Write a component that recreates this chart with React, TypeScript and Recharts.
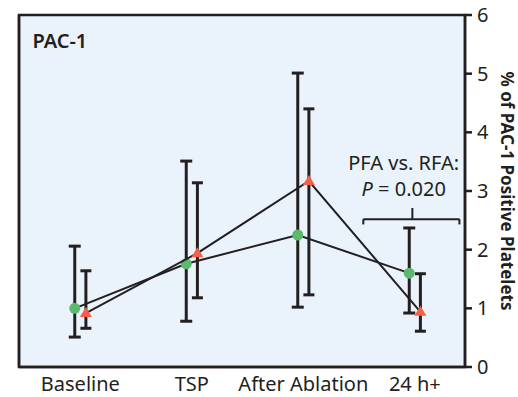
import { ComposedChart, Scatter, XAxis, YAxis, ErrorBar, ReferenceArea, ReferenceLine, ReferenceDot, Label } from 'recharts';

const categories = ['Baseline', 'TSP', 'After Ablation', '24 h+'];

// circles
const pfaMean = [1.0, 1.76, 2.25, 1.6];
const pfaLow = [0.51, 0.78, 1.02, 0.92];
const pfaHigh = [2.06, 3.51, 5.01, 2.37];

// triangles
const rfaMean = [0.92, 1.94, 3.17, 0.94];
const rfaLow = [0.66, 1.18, 1.23, 0.61];
const rfaHigh = [1.64, 3.14, 4.4, 1.59];

const rightTicks = [0, 1, 2, 3, 4, 5, 6];
const leftTicks = [0, 1, 2, 3, 4];
const categoryTicks = [0, 1, 2, 3];

const INK = '#231f20';
const GREEN = '#5cb96f';
const RED = '#f26148';
const FONT = '"Noto Sans", "Open Sans", sans-serif';

const toRows = (mean: number[], low: number[], high: number[], shift: number) =>
  mean.map((m, i) => ({ x: i + shift, y: m, err: [m - low[i], high[i] - m] }));

const pfaRows = toRows(pfaMean, pfaLow, pfaHigh, -0.05);
const rfaRows = toRows(rfaMean, rfaLow, rfaHigh, 0.05);

const Dot = (props: any) => <circle cx={props.cx} cy={props.cy} r={5.5} fill={GREEN} />;

const Triangle = (props: any) => {
  const { cx, cy } = props;
  return <polygon points={`${cx},${cy - 6} ${cx + 6},${cy + 4} ${cx - 6},${cy + 4}`} fill={RED} />;
};

const rightTitle = (props: any) => {
  const vb = props.viewBox;
  const x = vb.x + 42;
  const y = vb.y + vb.height / 2;
  return (
    <text x={x} y={y} transform={`rotate(90, ${x}, ${y})`} textAnchor="middle" dominantBaseline="central"
      fontSize={17} fontWeight={700} fill={INK} fontFamily={FONT}>
      % of PAC-1 Positive Platelets
    </text>
  );
};

const panelTitle = (props: any) => {
  const vb = props.viewBox;
  return (
    <text x={vb.x} y={vb.y} dominantBaseline="central" fontSize={20} fontWeight={600} fill={INK} fontFamily={FONT}>
      PAC-1
    </text>
  );
};

const pValue = (props: any) => {
  const vb = props.viewBox;
  return (
    <text x={vb.x} y={vb.y} textAnchor="middle" fontSize={20} fill={INK} fontFamily={FONT}>
      <tspan x={vb.x} dy={-6}>PFA vs. RFA:</tspan>
      <tspan x={vb.x} dy={26}><tspan fontStyle="italic">P</tspan> = 0.020</tspan>
    </text>
  );
};

const App = () => {
  return (
    <div style={{ position: 'absolute', left: 0, top: 0, fontFamily: FONT }}>
      <ComposedChart width={518} height={397} margin={{ top: 15, right: 0, left: 0, bottom: 0 }}>
        <XAxis
          xAxisId="x"
          type="number"
          dataKey="x"
          domain={[-0.55, 3.45]}
          ticks={categoryTicks}
          tickFormatter={(v: number) => categories[v]}
          height={30}
          tickSize={0}
          tickMargin={10}
          tickLine={false}
          axisLine={{ stroke: INK, strokeWidth: 2.5 }}
          tick={{ fill: INK, fontSize: 20, fontFamily: FONT }}
          interval={0}
          allowDataOverflow
        />
        <YAxis
          yAxisId="left"
          type="number"
          domain={[0, 4]}
          ticks={leftTicks}
          width={19}
          tick={false}
          tickSize={7}
          tickLine={{ stroke: INK, strokeWidth: 2.5 }}
          axisLine={{ stroke: INK, strokeWidth: 2.5 }}
          allowDataOverflow
        />
        <YAxis
          yAxisId="right"
          orientation="right"
          type="number"
          domain={[0, 6]}
          ticks={rightTicks}
          width={53}
          tickSize={7}
          tickMargin={5}
          tickLine={{ stroke: INK, strokeWidth: 2.5 }}
          axisLine={{ stroke: INK, strokeWidth: 2.5 }}
          tick={{ fill: INK, fontSize: 20, fontFamily: FONT }}
          allowDataOverflow
        >
          <Label content={rightTitle} />
        </YAxis>

        <ReferenceArea xAxisId="x" yAxisId="right" x1={-0.55} x2={3.45} y1={0} y2={6}
          fill="#eaf2fb" fillOpacity={1} stroke={INK} strokeWidth={2.5} />

        <ReferenceDot xAxisId="x" yAxisId="right" x={-0.43} y={5.57} r={0} fill="none" stroke="none"
          label={{ content: panelTitle }} />

        <Scatter
          xAxisId="x"
          yAxisId="right"
          data={pfaRows}
          dataKey="y"
          shape={Dot}
          line={{ stroke: INK, strokeWidth: 2 }}
          lineType="joint"
          isAnimationActive={false}
        >
          <ErrorBar dataKey="err" direction="y" width={6} strokeWidth={3} stroke={INK} />
        </Scatter>
        <Scatter
          xAxisId="x"
          yAxisId="right"
          data={rfaRows}
          dataKey="y"
          shape={Triangle}
          line={{ stroke: INK, strokeWidth: 2 }}
          lineType="joint"
          isAnimationActive={false}
        >
          <ErrorBar dataKey="err" direction="y" width={5.5} strokeWidth={3} stroke={INK} />
        </Scatter>

        {/* significance bracket */}
        <ReferenceLine xAxisId="x" yAxisId="right" segment={[{ x: 2.538, y: 2.52 }, { x: 3.4, y: 2.52 }]} stroke={INK} strokeWidth={2} />
        <ReferenceLine xAxisId="x" yAxisId="right" segment={[{ x: 2.538, y: 2.52 }, { x: 2.538, y: 2.43 }]} stroke={INK} strokeWidth={2} />
        <ReferenceLine xAxisId="x" yAxisId="right" segment={[{ x: 3.4, y: 2.52 }, { x: 3.4, y: 2.43 }]} stroke={INK} strokeWidth={2} />
        <ReferenceLine xAxisId="x" yAxisId="right" segment={[{ x: 2.978, y: 2.52 }, { x: 2.978, y: 2.71 }]} stroke={INK} strokeWidth={2} />
        <ReferenceDot xAxisId="x" yAxisId="right" x={2.9} y={3.26} r={0} fill="none" stroke="none"
          label={{ content: pValue }} />
      </ComposedChart>
    </div>
  );
};

export default App;
